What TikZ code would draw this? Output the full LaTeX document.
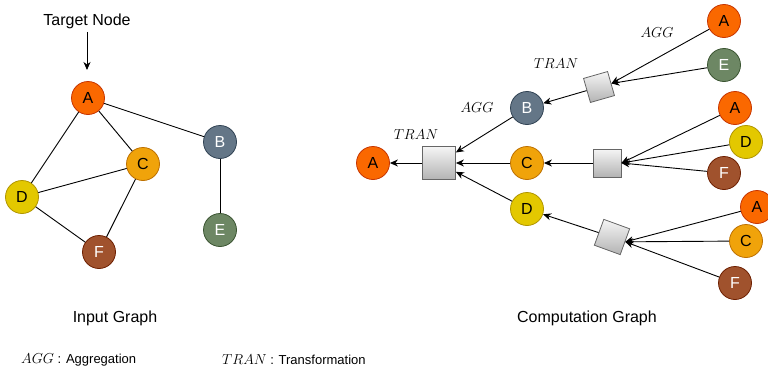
\documentclass[tikz,border=0pt]{standalone}
\usepackage{fontspec}
\setmainfont{Liberation Sans}
\usetikzlibrary{arrows.meta}
\definecolor{cAf}{HTML}{FA6800}\definecolor{cAd}{HTML}{C73500}
\definecolor{cBf}{HTML}{647687}\definecolor{cBd}{HTML}{314354}
\definecolor{cCf}{HTML}{F0A30A}\definecolor{cCd}{HTML}{BD7000}
\definecolor{cDf}{HTML}{E3C800}\definecolor{cDd}{HTML}{B09500}
\definecolor{cEf}{HTML}{6D8764}\definecolor{cEd}{HTML}{3A5431}
\definecolor{cFf}{HTML}{A0522D}\definecolor{cFd}{HTML}{6D1F00}
\definecolor{sqd}{HTML}{666666}\definecolor{sqt}{HTML}{F5F5F5}\definecolor{sqb}{HTML}{B3B3B3}
\begin{document}
\begin{tikzpicture}[x=1pt,y=-1pt,
  nd/.style={circle,minimum size=33pt,inner sep=0pt,line width=0.8pt,font=\fontsize{16}{16}\selectfont},
  na/.style={nd,fill=cAf,draw=cAd,text=black},
  nb/.style={nd,fill=cBf,draw=cBd,text=white},
  nc/.style={nd,fill=cCf,draw=cCd,text=black},
  ndd/.style={nd,fill=cDf,draw=cDd,text=black},
  ne/.style={nd,fill=cEf,draw=cEd,text=white},
  nf/.style={nd,fill=cFf,draw=cFd,text=white},
  sq/.style={rectangle,draw=sqd,top color=sqt,bottom color=sqb,inner sep=0pt,line width=0.8pt,minimum size=#1},
  edge/.style={line width=0.9pt},
  arr/.style={line width=0.9pt,-{Stealth[length=8pt,width=7pt,inset=2.5pt]}},
  lbl/.style={font=\fontsize{16}{16}\selectfont},
  mlbl/.style={font=\fontsize{15}{15}\selectfont}]
\useasboundingbox (0,0) rectangle (768,372);
% ---------- input graph ----------
\node[lbl] (tgt) at (87,21) {Target Node};
\coordinate (tgtend) at (87,70);
\node[na] (A) at (88,98) {A};
\node[nb] (B) at (220,142) {B};
\node[nc] (C) at (143,164) {C};
\node[ndd] (D) at (22,197) {D};
\node[ne] (E) at (220,230) {E};
\node[nf] (F) at (99,252) {F};
\draw[arr] (tgt) -- (tgtend);
\draw[edge] (A) -- (D);
\draw[edge] (A) -- (C);
\draw[edge] (A) -- (B);
\draw[edge] (C) -- (D);
\draw[edge] (C) -- (F);
\draw[edge] (D) -- (F);
\draw[edge] (B) -- (E);
\node[lbl] (in) at (115,318) {Input Graph};
% ---------- computation graph ----------
\node[na] (rA) at (373,163) {A};
\node[sq=33pt] (s1) at (439,163) {};
\node[nb] (rB) at (527,108) {B};
\node[nc] (rC) at (527,163) {C};
\node[ndd] (rD) at (527,209) {D};
\node[sq=25pt,rotate=16] (s2) at (599,87) {};
\node[sq=28pt] (s3) at (607,163) {};
\node[sq=27.5pt,rotate=-20] (s4) at (612,237) {};
\node[na] (lA1) at (724,21) {A};
\node[ne] (lE1) at (724,65) {E};
\node[na] (lA2) at (735,108) {A};
\node[ndd] (lD2) at (746,142) {D};
\node[nf] (lF2) at (724,173) {F};
\node[na] (lA3) at (757,207) {A};
\node[nc] (lC3) at (746,241) {C};
\node[nf] (lF3) at (735,283) {F};
\draw[arr] (s1) -- (rA);
\draw[arr] (rB) -- (s1);
\draw[arr] (rC) -- (s1);
\draw[arr] (rD) -- (s1);
\draw[arr] (s2) -- (rB);
\draw[arr] (s3) -- (rC);
\draw[arr] (s4) -- (rD);
\draw[arr] (lA1) -- (s2.east);
\draw[arr] (lE1) -- (s2.east);
\draw[arr] (lA2) -- (s3.east);
\draw[arr] (lD2) -- (s3.east);
\draw[arr] (lF2) -- (s3.east);
\draw[arr] (lA3) -- (s4.east);
\draw[arr] (lC3) -- (s4.east);
\draw[arr] (lF3) -- (s4.east);
\node[mlbl] (t1) at (416,135) {$TRAN$};
\node[mlbl] (a1) at (477,108) {$AGG$};
\node[mlbl] (t2) at (556,64) {$TRAN$};
\node[mlbl] (a2) at (657,33) {$AGG$};
\node[lbl] (cg) at (587,318) {Computation Graph};
% ---------- legend ----------
\node[anchor=west,inner sep=0pt] (leg1) at (21,360) {\fontsize{15.5}{16}\selectfont$AGG$\fontsize{13}{14}\selectfont\ : Aggregation};
\node[anchor=west,inner sep=0pt] (leg2) at (222,360) {\fontsize{15.5}{16}\selectfont$TRAN$\fontsize{13}{14}\selectfont\ : Transformation};
\end{tikzpicture}
\end{document}
